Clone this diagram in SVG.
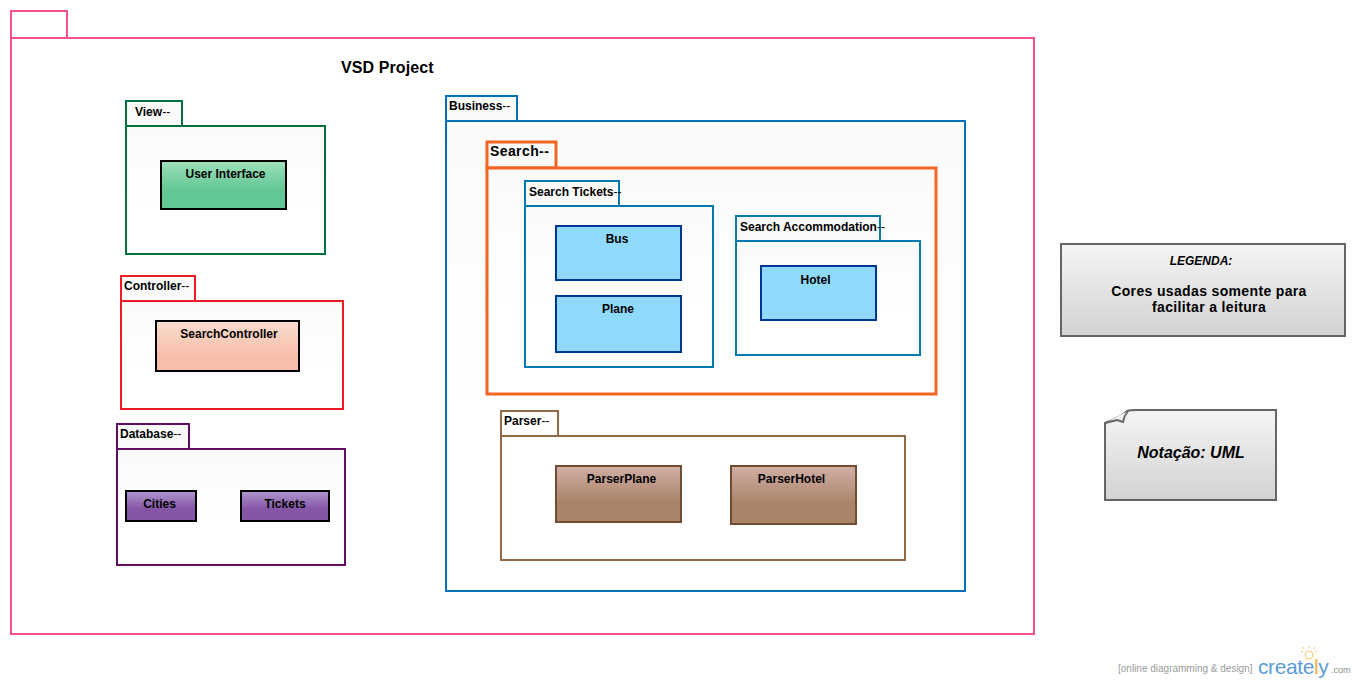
<svg xmlns="http://www.w3.org/2000/svg" width="1356" height="684" viewBox="0 0 1356 684">
<style>
text{font-family:"Liberation Sans",Arial,sans-serif;font-weight:700;font-size:12px;fill:#000}
.m{text-anchor:middle}
.n{font-weight:400}
.pk{fill:url(#pkg);stroke-width:2}
.tab{fill:#fafafa;stroke-width:2}
.cls{stroke-width:2}
.blue{fill:#8fd9fa;stroke:#003594}
.brown{fill:url(#br);stroke:#704c30}
.purple{fill:url(#pu);stroke:#000}
.note{fill:url(#gr);stroke:#666;stroke-width:2}
</style>
<defs>
<linearGradient id="pkg" x1="0" y1="0" x2="0" y2="1"><stop offset="0" stop-color="#fafafa"/><stop offset=".4" stop-color="#fefefe"/><stop offset=".6" stop-color="#fff"/></linearGradient>
<linearGradient id="gn" x1="0" y1="0" x2="0" y2="1"><stop offset="0" stop-color="#a0e0bc"/><stop offset=".6" stop-color="#62c794"/></linearGradient>
<linearGradient id="rd" x1="0" y1="0" x2="0" y2="1"><stop offset="0" stop-color="#f9dccf"/><stop offset=".7" stop-color="#f7bfaa"/></linearGradient>
<linearGradient id="pu" x1="0" y1="0" x2="0" y2="1"><stop offset="0" stop-color="#ae98cc"/><stop offset=".6" stop-color="#8556a6"/></linearGradient>
<linearGradient id="br" x1="0" y1="0" x2="0" y2="1"><stop offset="0" stop-color="#d2aea6"/><stop offset=".65" stop-color="#a98468"/></linearGradient>
<linearGradient id="gr" x1="0" y1="0" x2="0" y2="1"><stop offset="0" stop-color="#f5f5f5"/><stop offset="1" stop-color="#d2d2d2"/></linearGradient>
</defs>

<g id="connectors"></g>

<g id="vsd-project">
<rect x="11" y="11" width="56" height="27" fill="#fff" stroke="#f7508a" stroke-width="2"/>
<rect x="11" y="38" width="1023" height="596" fill="#fff" stroke="#f7508a" stroke-width="2"/>
<text x="341" y="73" style="font-size:16px;letter-spacing:.1px">VSD Project</text>
</g>

<g id="view" stroke="#007040">
<rect class="tab" x="126" y="101" width="56" height="25"/>
<rect class="pk" x="126" y="126" width="199" height="128"/>
<text x="135" y="116" stroke="none">View<tspan class="n">--</tspan></text>
</g>
<g id="user-interface">
<rect class="cls" x="161" y="161" width="125" height="48" fill="url(#gn)" stroke="#000"/>
<text class="m" x="225.500" y="178">User Interface</text>
</g>

<g id="controller" stroke="#ed1c24">
<rect class="tab" x="121" y="276" width="74" height="25"/>
<rect class="pk" x="121" y="301" width="222" height="108"/>
<text x="124" y="290" stroke="none">Controller<tspan class="n">--</tspan></text>
</g>
<g id="search-controller">
<rect class="cls" x="156" y="321" width="143" height="50" fill="url(#rd)" stroke="#000"/>
<text class="m" x="229" y="338">SearchController</text>
</g>

<g id="database" stroke="#5f0f63">
<rect class="tab" x="117" y="424" width="72" height="25"/>
<rect class="pk" x="117" y="449" width="228" height="116"/>
<text x="120" y="438" stroke="none">Database<tspan class="n">--</tspan></text>
</g>
<g id="cities">
<rect class="cls purple" x="126" y="491" width="70" height="30"/>
<text class="m" x="159.500" y="508">Cities</text>
</g>
<g id="tickets">
<rect class="cls purple" x="241" y="491" width="88" height="30"/>
<text class="m" x="285" y="508">Tickets</text>
</g>

<g id="business" stroke="#0070b8">
<rect class="tab" x="446" y="96" width="71" height="25"/>
<rect class="pk" x="446" y="121" width="519" height="470"/>
<text x="449" y="110" stroke="none">Business<tspan class="n">--</tspan></text>
</g>

<g id="search" stroke="#f26522">
<rect x="487" y="142" width="69" height="26" fill="#fafafa" stroke-width="3"/>
<rect x="487" y="168" width="449" height="226" fill="url(#pkg)" stroke-width="3"/>
<text x="490" y="156" stroke="none" style="font-size:14px;letter-spacing:.4px">Search--</text>
</g>

<g id="search-tickets" stroke="#0079ad">
<rect class="tab" x="525" y="181" width="94" height="25"/>
<rect class="pk" x="525" y="206" width="188" height="161"/>
<text x="529" y="196" stroke="none">Search Tickets<tspan class="n">--</tspan></text>
</g>
<g id="bus">
<rect class="cls blue" x="556" y="226" width="125" height="54"/>
<text class="m" x="617" y="243">Bus</text>
</g>
<g id="plane">
<rect class="cls blue" x="556" y="296" width="125" height="56"/>
<text class="m" x="618" y="313">Plane</text>
</g>

<g id="search-accommodation" stroke="#0079ad">
<rect class="tab" x="736" y="216" width="144" height="25"/>
<rect class="pk" x="736" y="241" width="184" height="114"/>
<text x="740" y="231" stroke="none">Search Accommodation<tspan class="n">--</tspan></text>
</g>
<g id="hotel">
<rect class="cls blue" x="761" y="266" width="115" height="54"/>
<text class="m" x="815.500" y="284">Hotel</text>
</g>

<g id="parser" stroke="#946a46">
<rect x="501" y="411" width="57" height="25" fill="#fff" stroke-width="2"/>
<rect x="501" y="436" width="404" height="124" fill="#fff" stroke-width="2"/>
<text x="504" y="425" stroke="none">Parser<tspan class="n">--</tspan></text>
</g>
<g id="parser-plane">
<rect class="cls brown" x="556" y="466" width="125" height="56"/>
<text class="m" x="621.500" y="483">ParserPlane</text>
</g>
<g id="parser-hotel">
<rect class="cls brown" x="731" y="466" width="125" height="58"/>
<text class="m" x="791.500" y="483">ParserHotel</text>
</g>

<g id="legenda">
<rect class="note" x="1061" y="244" width="284" height="92"/>
<text class="m" x="1201" y="265" style="font-style:italic">LEGENDA:</text>
<text class="m" x="1209" y="296" style="font-size:14px;letter-spacing:.35px">Cores usadas somente para</text>
<text class="m" x="1209" y="312" style="font-size:14px;letter-spacing:.35px">facilitar a leitura</text>
</g>

<g id="notacao">
<path class="note" d="M1105 423Q1122 417 1127 411Q1130 410 1137 410H1276V500H1105Z"/>
<path d="M1105 423L1117 420L1123 422Q1124 416 1128 411" fill="#f0f0f0" stroke="#666" stroke-width="2"/>
<text class="m" x="1191" y="458" style="font-size:16px;font-style:italic">Notação: UML</text>
</g>

<g id="creately">
<text x="1118" y="672" style="font-size:10px;font-weight:400;fill:#9a9a9a">[online diagramming &amp; design]</text>
<text x="1258" y="674" style="font-size:21px;font-weight:400;letter-spacing:-.4px;fill:#5b9bd5">create<tspan fill="#f5b041">l</tspan>y</text>
<text x="1331" y="673" style="font-size:9px;font-weight:400;fill:#8a8a8a">.com</text>
<circle cx="1309" cy="655" r="4" fill="none" stroke="#f7c56b" stroke-width="1"/>
<path d="M1309 646v2M1301 651l2 1M1317 651l-2 1M1303 647l1 2M1315 647l-1 2" stroke="#f7c56b" stroke-width="1"/>
</g>
</svg>
